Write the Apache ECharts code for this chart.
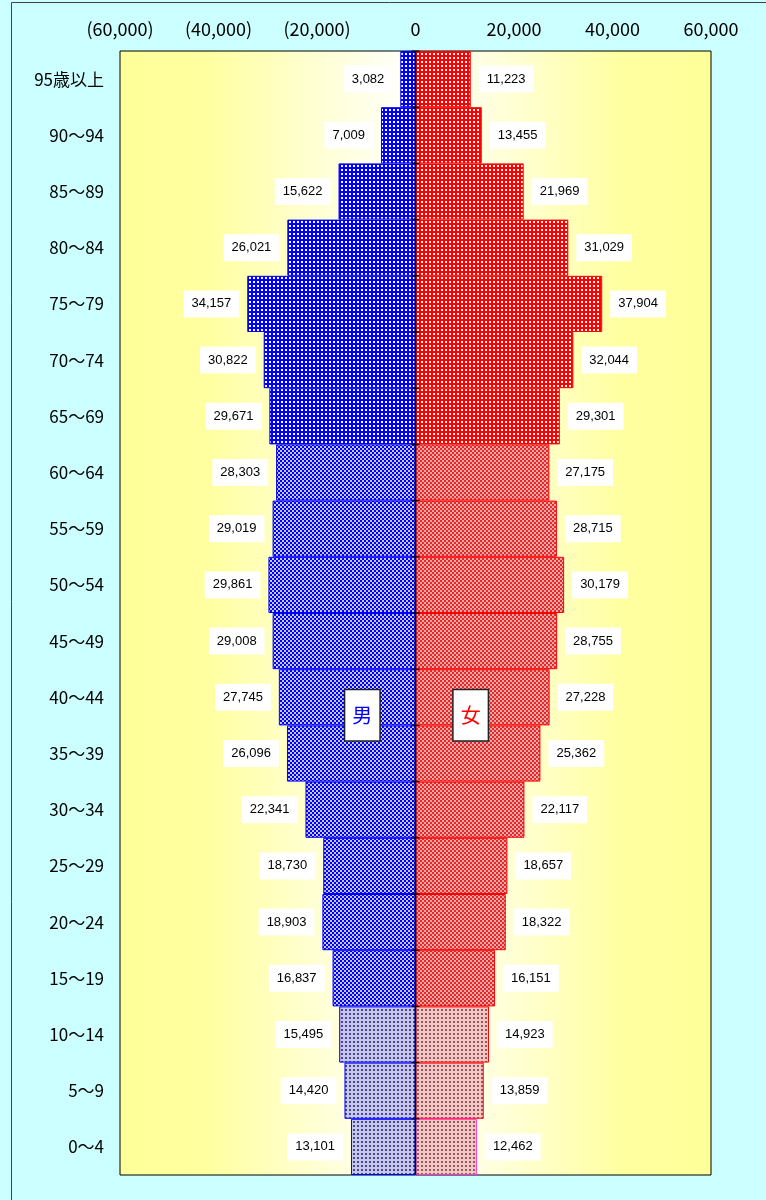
<!DOCTYPE html>
<html><head><meta charset="utf-8">
<script src="https://cdn.jsdelivr.net/npm/echarts@6/dist/echarts.min.js"></script>
<style>html,body{margin:0;padding:0;background:#ccffff;}#c{width:766px;height:1200px;}</style>
</head><body><div id="c"></div>
<script>
const categories = ['95歳以上','90～94','85～89','80～84','75～79','70～74','65～69','60～64','55～59','50～54','45～49','40～44','35～39','30～34','25～29','20～24','15～19','10～14','5～9','0～4'];
const male = [3082,7009,15622,26021,34157,30822,29671,28303,29019,29861,29008,27745,26096,22341,18730,18903,16837,15495,14420,13101];
const female = [11223,13455,21969,31029,37904,32044,29301,27175,28715,30179,28755,27228,25362,22117,18657,18322,16151,14923,13859,12462];
const xTicks = [-60000,-40000,-20000,0,20000,40000,60000];
const sexLabels = ['男','女'];

function tile(w,h,bg,fg,cells){
  const c=document.createElement('canvas');c.width=w;c.height=h;
  const g=c.getContext('2d');g.fillStyle=bg;g.fillRect(0,0,w,h);g.fillStyle=fg;
  cells.forEach(r=>g.fillRect(r[0],r[1],r[2],r[3]));
  return {image:c,repeat:'repeat'};
}
const pat = {
  mOld: tile(4,4,'#0000ff','#ffffff',[[1,1,2,2]]),
  fOld: tile(4,4,'#ff0000','#ffffff',[[1,1,2,2]]),
  mMid: tile(4,4,'#c4c4ff','#0000ff',[[0,0,2,2],[2,2,2,2]]),
  fMid: tile(4,4,'#e8a8a8','#e82828',[[0,0,2,2],[2,2,2,2]]),
  mYoung: tile(4,4,'#c6c6ec','#48488a',[[1,1,2,2]]),
  fYoung: tile(4,4,'#f0c6c6','#985a5a',[[1,1,2,2]])
};
function group(i){return i<7?'Old':(i<17?'Mid':'Young');}
const fmt = v => Math.abs(v).toLocaleString('en-US');

const maleData = male.map((v,i)=>({value:-v,itemStyle:{color:pat['m'+group(i)]}}));
const femaleData = female.map((v,i)=>({value:v,itemStyle:{color:pat['f'+group(i)],borderColor:i===19?'#ff33cc':'#ff0000'}}));

const labelStyle = {show:true,formatter:p=>fmt(p.value),fontFamily:'Liberation Sans, Arial, sans-serif',fontSize:13,color:'#000',backgroundColor:'#fff',padding:[7,8],distance:8};
const boxLabel = (txt,col)=>({show:true,position:'inside',formatter:txt,color:col,fontSize:20,fontFamily:'Noto Sans CJK JP',backgroundColor:'#fff',borderColor:'#222',borderWidth:1.5,padding:[12,7],lineHeight:26});

// centre line with short tick marks at every category boundary
const boundaries = categories.map((c,i)=>i);

const chart = echarts.init(document.getElementById('c'));
chart.setOption({
  backgroundColor:'#ccffff',
  animation:false,
  graphic:[{type:'rect',shape:{x:11.5,y:2.5,width:900,height:1400},style:{fill:'none',stroke:'#444',lineWidth:1},z:-10}],
  grid:{left:120,right:55,top:51,bottom:25,show:true,borderColor:'#000',borderWidth:1,
    backgroundColor:{type:'linear',x:0,y:0,x2:1,y2:0,colorStops:[
      {offset:0,color:'#ffff99'},{offset:0.15,color:'#ffffa0'},{offset:0.32,color:'#ffffd0'},{offset:0.5,color:'#ffffff'},
      {offset:0.68,color:'#ffffd0'},{offset:0.85,color:'#ffffa0'},{offset:1,color:'#ffff99'}]}},
  xAxis:{type:'value',position:'top',min:xTicks[0],max:xTicks[xTicks.length-1],interval:20000,
    axisLine:{show:false},axisTick:{show:false},splitLine:{show:false},
    axisLabel:{margin:13,fontSize:18,color:'#000',fontFamily:'Noto Sans CJK JP',
      formatter:v=>v<0?'('+fmt(v)+')':fmt(v)}},
  yAxis:[
    {type:'category',data:categories,inverse:true,axisLine:{show:false,onZero:false},axisTick:{show:false},
      axisLabel:{margin:16,fontSize:17,color:'#000',fontFamily:'Noto Sans CJK JP'}}
  ],
  series:[
    {name:'男',type:'bar',data:maleData,barCategoryGap:'0%',barGap:'-100%',
      itemStyle:{borderColor:'#0000ff',borderWidth:1},
      label:Object.assign({position:'left'},labelStyle),
      markPoint:{symbol:'rect',symbolSize:1,itemStyle:{color:'rgba(0,0,0,0)'},
        data:[{coord:[-10800,categories[11]],label:Object.assign(boxLabel(sexLabels[0],'#0000ff'),{offset:[0,18]})}]}},
    {name:'女',type:'bar',data:femaleData,barCategoryGap:'0%',barGap:'-100%',
      itemStyle:{borderWidth:1},
      label:Object.assign({position:'right'},labelStyle),
      markPoint:{symbol:'rect',symbolSize:1,itemStyle:{color:'rgba(0,0,0,0)'},
        data:[{coord:[11200,categories[11]],label:Object.assign(boxLabel(sexLabels[1],'#ff0000'),{offset:[0,18]})}]}},
    {type:'custom',z:10,silent:true,data:boundaries,
      renderItem:function(params,api){
        const c = api.coord([0,api.value(0)]);
        const h = api.size([0,1])[1];
        const y0 = c[1]-h/2;
        return {type:'group',children:[
          {type:'line',shape:{x1:c[0]-4,y1:y0,x2:c[0]+4,y2:y0},style:{stroke:'#000',lineWidth:1}},
          {type:'line',shape:{x1:c[0],y1:y0,x2:c[0],y2:y0+h},style:{stroke:'#000',lineWidth:1.5}}]};
      }}
  ]
});
</script></body></html>
